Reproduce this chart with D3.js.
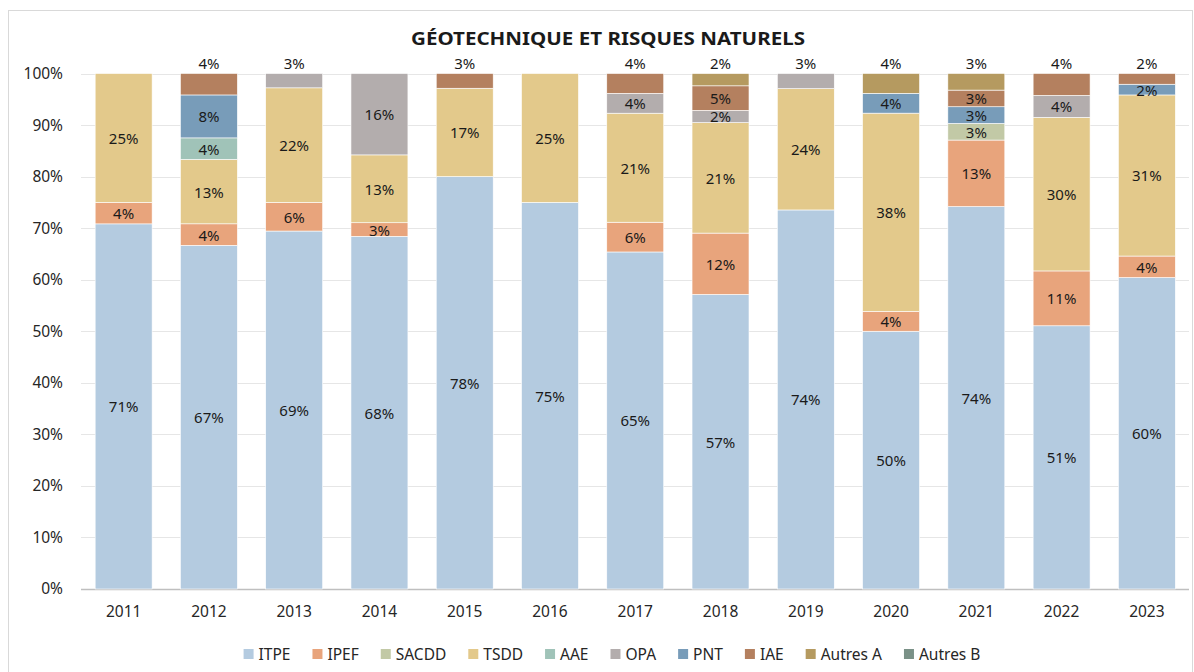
<!DOCTYPE html>
<html>
<head>
<meta charset="utf-8">
<script src="https://cdn.jsdelivr.net/npm/d3@7"></script>
<style>
  html, body { margin: 0; padding: 0; background: #fff; }
  svg { display: block; font-family: "Noto Sans", "Open Sans", sans-serif; }
</style>
</head>
<body>
<svg id="chart" width="1194" height="672"></svg>
<script>
// ---------- DATA ----------
const title = "GÉOTECHNIQUE ET RISQUES NATURELS";
const years = ["2011","2012","2013","2014","2015","2016","2017","2018","2019","2020","2021","2022","2023"];
const seriesNames = ["ITPE","IPEF","SACDD","TSDD","AAE","OPA","PNT","IAE","Autres A","Autres B"];
const ITPE    = [70.83, 66.67, 69.44, 68.42, 80.00, 75.00, 65.38, 57.14, 73.53, 50.00, 74.19, 51.06, 60.42];
const IPEF    = [ 4.17,  4.17,  5.56,  2.63,  0,     0,     5.77, 11.90,  0,     3.85, 12.90, 10.64,  4.17];
const SACDD   = [ 0,     0,     0,     0,     0,     0,     0,     0,     0,     0,     3.23,  0,     0   ];
const TSDD    = [25.00, 12.50, 22.22, 13.16, 17.14, 25.00, 21.15, 21.43, 23.53, 38.46,  0,    29.79, 31.25];
const AAE     = [ 0,     4.17,  0,     0,     0,     0,     0,     0,     0,     0,     0,     0,     0   ];
const OPA     = [ 0,     0,     2.78, 15.79,  0,     0,     3.85,  2.38,  2.94,  0,     0,     4.26,  0   ];
const PNT     = [ 0,     8.33,  0,     0,     0,     0,     0,     0,     0,     3.85,  3.23,  0,     2.08];
const IAE     = [ 0,     4.17,  0,     0,     2.86,  0,     3.85,  4.76,  0,     0,     3.23,  4.26,  2.08];
const AutresA = [ 0,     0,     0,     0,     0,     0,     0,     2.38,  0,     3.85,  3.23,  0,     0   ];
const AutresB = [ 0,     0,     0,     0,     0,     0,     0,     0,     0,     0,     0,     0,     0   ];
// label printed in the source for 2015 ITPE (differs from bar height)
const labelOverrides = [{year: "2015", series: "ITPE", text: "78%"}];
const yTicks = [0,10,20,30,40,50,60,70,80,90,100];
const colors = ["#b4cbe0","#e8a47c","#c2c9a6","#e3c98b","#a0c3b8","#b3adad","#789cb9","#b4805f","#b59a60","#7a9187"];

// ---------- BUILD ----------
const seriesValues = [ITPE, IPEF, SACDD, TSDD, AAE, OPA, PNT, IAE, AutresA, AutresB];
const table = years.map((y, i) => {
  const row = {year: y};
  seriesNames.forEach((s, k) => row[s] = seriesValues[k][i]);
  return row;
});

const svg = d3.select("#chart");

// chart border
svg.append("rect").attr("x", 8.5).attr("y", 10.5).attr("width", 1184).attr("height", 680)
  .attr("fill", "none").attr("stroke", "#d9d9d9").attr("stroke-width", 1);

const x = d3.scaleBand().domain(years).range([81, 1189.5]).paddingInner(0.332).paddingOuter(0.166);
const y = d3.scaleLinear().domain([0, 100]).range([589, 73.5]);

// gridlines
svg.append("g").selectAll("line").data(yTicks).join("line")
  .attr("x1", 81).attr("x2", 1189)
  .attr("y1", d => Math.round(y(d)) + 0.5).attr("y2", d => Math.round(y(d)) + 0.5)
  .attr("stroke", d => d === 0 ? "#bfbfbf" : "#e6e6e6").attr("stroke-width", d => d === 0 ? 1.5 : 1);

// y axis labels
const yAxis = d3.axisLeft(y).tickValues(yTicks).tickFormat(d => d + "%").tickSize(0).tickPadding(0);
const gy = svg.append("g").attr("transform", "translate(63,0)").call(yAxis);
gy.select(".domain").remove();
gy.selectAll("text").attr("font-size", 15.5).attr("fill", "#262626")
  .style("font-family", '"Noto Sans", sans-serif');

// x axis labels
const xAxis = d3.axisBottom(x).tickSize(0).tickPadding(0);
const gx = svg.append("g").attr("transform", "translate(0,606)").call(xAxis);
gx.select(".domain").remove();
gx.selectAll("text").attr("font-size", 15.5).attr("fill", "#262626")
  .style("font-family", '"Noto Sans", sans-serif');

// stacked bars
const stack = d3.stack().keys(seriesNames);
const stacked = stack(table);

const layers = svg.append("g").selectAll("g").data(stacked).join("g")
  .attr("fill", (d, i) => colors[i]);
layers.selectAll("rect").data(d => d.map(p => ({p, key: d.key}))).join("rect")
  .filter(d => d.p[1] - d.p[0] > 0)
  .attr("x", d => x(d.p.data.year))
  .attr("width", x.bandwidth())
  .attr("y", d => y(d.p[1]))
  .attr("height", d => y(d.p[0]) - y(d.p[1]))
  .attr("stroke", "#ffffff").attr("stroke-width", 0.6);

// labels
const labels = [];
years.forEach((yr, i) => {
  let topKey = null;
  stacked.forEach(layer => { if (layer[i][1] - layer[i][0] > 0) topKey = layer.key; });
  stacked.forEach(layer => {
    const v = layer[i][1] - layer[i][0];
    if (v <= 0) return;
    const ov = labelOverrides.find(o => o.year === yr && o.series === layer.key);
    const text = ov ? ov.text : Math.round(v) + "%";
    let cy;
    if (layer.key === topKey && v < 5) cy = y(100) - 11;
    else cy = (y(layer[i][0]) + y(layer[i][1])) / 2;
    labels.push({x: x(yr) + x.bandwidth() / 2, y: cy, text});
  });
});
svg.append("g").selectAll("text").data(labels).join("text")
  .attr("x", d => d.x).attr("y", d => d.y)
  .attr("text-anchor", "middle").attr("dominant-baseline", "central")
  .attr("font-size", 15).attr("fill", "#1a1a1a")
  .text(d => d.text);

// title
svg.append("text").attr("x", 608).attr("y", 38)
  .attr("text-anchor", "middle").attr("dominant-baseline", "central")
  .attr("font-size", 17).attr("font-weight", "bold").attr("fill", "#1a1a1a")
  .attr("textLength", 394).attr("lengthAdjust", "spacingAndGlyphs")
  .text(title);

// legend
const legend = svg.append("g");
const items = legend.selectAll("g").data(seriesNames).join("g");
items.append("rect").attr("width", 10).attr("height", 10).attr("y", -5)
  .attr("fill", (d, i) => colors[i]);
items.append("text").attr("x", 15).attr("y", 0).attr("dominant-baseline", "central")
  .attr("font-size", 15.5).attr("fill", "#262626").text(d => d);
const gap = 22;
let cx = 0;
items.each(function() {
  const g = d3.select(this);
  const w = 15 + g.select("text").node().getComputedTextLength();
  g.attr("transform", `translate(${cx},654)`);
  cx += w + gap;
});
const totalW = cx - gap;
legend.attr("transform", `translate(${612 - totalW / 2},0)`);
</script>
</body>
</html>
